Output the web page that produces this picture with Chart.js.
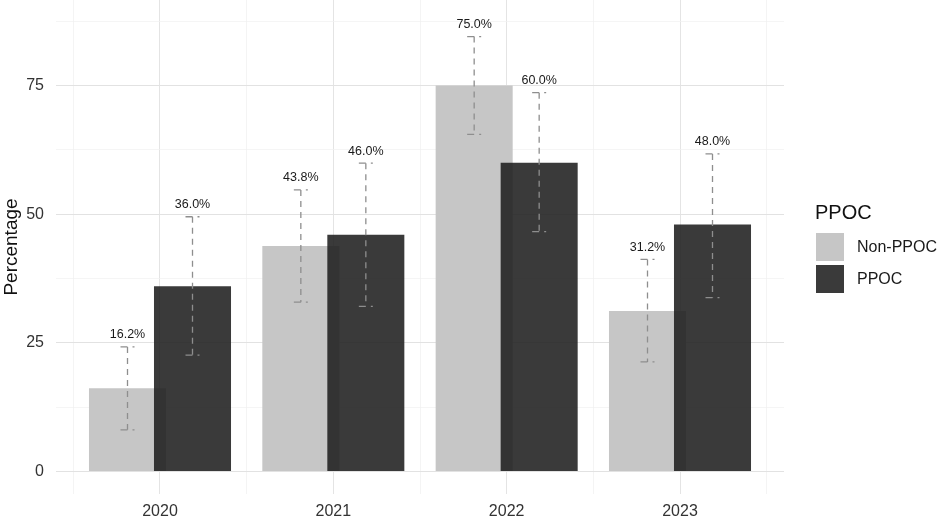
<!DOCTYPE html>
<html><head><meta charset="utf-8">
<script src="https://cdn.jsdelivr.net/npm/chart.js@4.4.1/dist/chart.umd.min.js"></script>
<style>html,body{margin:0;padding:0;background:#fff}#wrap{width:945px;height:524px;position:relative}</style>
</head><body><div id="wrap"><canvas id="c" width="945" height="524"></canvas></div>
<script>
const years = [2020, 2021, 2022, 2023];
const seriesNames = ['Non-PPOC', 'PPOC'];
const nonPpocValues = [16.2, 43.8, 75.0, 31.2];
const ppocValues = [36.0, 46.0, 60.0, 48.0];
const nonPpocLower = [8.1, 32.9, 65.5, 21.3];
const nonPpocUpper = [24.2, 54.7, 84.5, 41.2];
const ppocLower = [22.6, 32.1, 46.6, 33.8];
const ppocUpper = [49.5, 59.9, 73.6, 61.7];
const yMajorTicks = [0, 25, 50, 75];
const yMinorTicks = [12.5, 37.5, 62.5, 87.5];
const xMinorTicks = [2019.5, 2020.5, 2021.5, 2022.5, 2023.5];
const legendTitle = 'PPOC';
const yTitle = 'Percentage';

const FONT = "'Liberation Sans', Arial, sans-serif";
Chart.defaults.font.family = FONT;
const barColors = ['#c6c6c6', 'rgba(31,31,31,0.88)'];
const legendColors = ['#c6c6c6', '#3a3a3a'];

const errorBars = {
  id: 'errorBars',
  beforeDatasetDraw(chart, args) {
    // draw the second series later so that it sits on top of the first
    if (args.index === 1 && !chart.$topPass) return false;
  },
  afterDatasetsDraw(chart) {
    const ctx = chart.ctx, ys = chart.scales.y, ca = chart.chartArea;
    ctx.save();
    ctx.beginPath(); ctx.rect(ca.left, ca.top, ca.right - ca.left, ca.bottom - ca.top); ctx.clip();
    chart.$topPass = true;
    chart.getDatasetMeta(1).controller.draw();
    chart.$topPass = false;
    ctx.restore();
    chart.data.datasets.forEach((ds, i) => {
      const meta = chart.getDatasetMeta(i);
      meta.data.forEach((bar, j) => {
        const x = bar.x;
        const top = ys.getPixelForValue(ds.upper[j]);
        const bot = ys.getPixelForValue(ds.lower[j]);
        ctx.save();
        ctx.strokeStyle = '#8e8e8e';
        ctx.lineWidth = 1.3;
        ctx.setLineDash([7, 5]);
        ctx.beginPath(); ctx.moveTo(x - 7, top); ctx.lineTo(x + 7, top); ctx.stroke();
        ctx.setLineDash([6, 5]);
        ctx.beginPath(); ctx.moveTo(x, top); ctx.lineTo(x, bot); ctx.stroke();
        ctx.setLineDash([7, 5]);
        ctx.beginPath(); ctx.moveTo(x - 7, bot); ctx.lineTo(x + 7, bot); ctx.stroke();
        ctx.setLineDash([]);
        ctx.fillStyle = '#1a1a1a';
        ctx.font = '12.5px ' + FONT;
        ctx.textAlign = 'center';
        ctx.textBaseline = 'middle';
        ctx.fillText(ds.data[j].y.toFixed(1) + '%', x, top - 12);
        ctx.restore();
      });
    });
  }
};

const customLegend = {
  id: 'customLegend',
  afterDraw(chart) {
    const ctx = chart.ctx, ca = chart.chartArea;
    const mid = (ca.top + ca.bottom) / 2;
    const left = ca.right + 32;
    ctx.save();
    ctx.fillStyle = '#111';
    ctx.font = '20px ' + FONT;
    ctx.textAlign = 'left';
    ctx.textBaseline = 'middle';
    ctx.fillText(legendTitle, left - 1, mid - 34);
    chart.data.datasets.forEach((ds, i) => {
      const top = mid - 14 + i * 32;
      ctx.fillStyle = legendColors[i];
      ctx.fillRect(left, top, 28, 28);
      ctx.fillStyle = '#1a1a1a';
      ctx.font = '16px ' + FONT;
      ctx.fillText(ds.label, left + 41, top + 15);
    });
    ctx.restore();
  }
};

const noPad = s => { s.paddingTop = 0; s.paddingBottom = 0; s.paddingLeft = 0; s.paddingRight = 0; };

new Chart(document.getElementById('c'), {
  type: 'bar',
  data: {
    datasets: [
      { label: seriesNames[0], data: years.map((yr, i) => ({ x: yr, y: nonPpocValues[i] })),
        backgroundColor: barColors[0], lower: nonPpocLower, upper: nonPpocUpper },
      { label: seriesNames[1], data: years.map((yr, i) => ({ x: yr, y: ppocValues[i] })),
        backgroundColor: barColors[1], lower: ppocLower, upper: ppocUpper }
    ]
  },
  options: {
    responsive: false,
    animation: false,
    devicePixelRatio: 1,
    categoryPercentage: 0.75,
    barPercentage: 1.185,
    layout: { padding: { top: 0, right: 161, left: 0, bottom: 0 } },
    plugins: { legend: { display: false }, tooltip: { enabled: false } },
    scales: {
      x: {
        type: 'linear', position: 'bottom', min: 2019.4, max: 2023.6, offset: false,
        afterBuildTicks: s => { s.ticks = years.map(v => ({ value: v })); },
        afterFit: s => { s.height = 30; noPad(s); },
        ticks: { callback: v => String(v), font: { size: 16 }, color: '#333', padding: 8, autoSkip: false, maxRotation: 0 },
        grid: { color: '#e4e4e4', lineWidth: 1, drawTicks: false, offset: false },
        border: { display: false }
      },
      x2: {
        type: 'linear', position: 'bottom', min: 2019.4, max: 2023.6, offset: false,
        afterBuildTicks: s => { s.ticks = xMinorTicks.map(v => ({ value: v })); },
        afterFit: s => { s.height = 0; noPad(s); },
        ticks: { display: false },
        grid: { color: '#efefef', lineWidth: 0.7, drawTicks: false, offset: false },
        border: { display: false }
      },
      y: {
        type: 'linear', min: -4.36, max: 91.6,
        afterBuildTicks: s => { s.ticks = [...yMajorTicks, ...yMinorTicks].sort((a, b) => a - b).map(v => ({ value: v })); },
        afterFit: s => { s.width = 56; noPad(s); },
        ticks: { callback: v => yMajorTicks.includes(v) ? String(v) : '', font: { size: 16 }, color: '#333', padding: 12 },
        grid: {
          color: c => yMajorTicks.includes(c.tick && c.tick.value) ? '#e2e2e2' : '#f0f0f0',
          lineWidth: c => yMajorTicks.includes(c.tick && c.tick.value) ? 1 : 0.7,
          drawTicks: false
        },
        border: { display: false },
        title: { display: true, text: yTitle, font: { size: 19 }, color: '#111', padding: { top: 0, bottom: 0 } }
      }
    }
  },
  plugins: [errorBars, customLegend]
});
</script>
</body></html>
